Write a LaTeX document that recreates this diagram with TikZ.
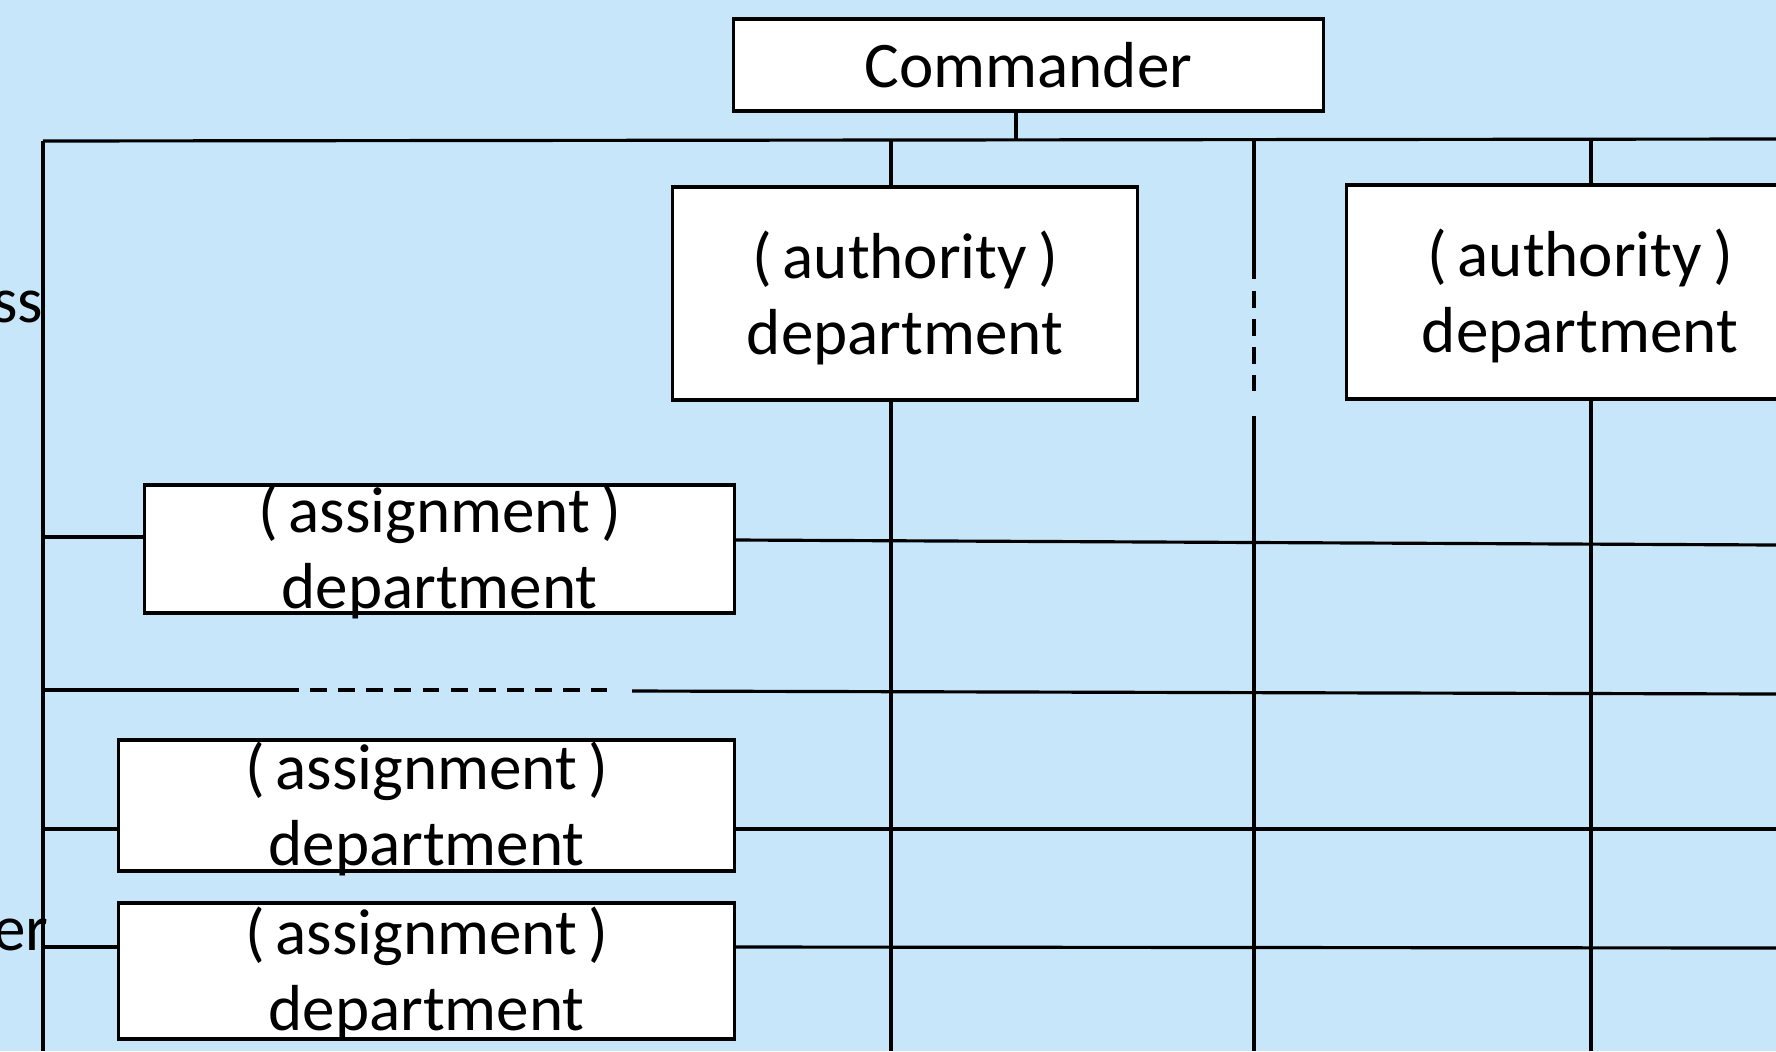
\documentclass[tikz,border=0pt]{standalone}
\usepackage{fontspec}
\setmainfont{Carlito}
\definecolor{fundo}{RGB}{199,230,250}
\begin{document}
\begin{tikzpicture}[x=0.01cm, y=-0.01cm, line width=0.9pt,
    caixa/.style={draw, fill=white, inner sep=0pt},
    texto/.style={align=center, inner sep=0pt, font=\fontsize{18.5}{21.6}\selectfont},
    tracejado/.style={dash pattern=on 4.8pt off 3.2pt}]
    % Fundo
    \fill[fundo] (0,0) rectangle (1776,1051);
    \useasboundingbox (0,0) rectangle (1776,1051);

    % Caixas
    \node[caixa, texto, minimum width=5.89cm, minimum height=0.92cm] (cmd) at (1028.5,65) {Commander};
    \node[caixa, minimum width=4.64cm, minimum height=2.13cm] (aut1) at (905,293.5) {};
    \node[caixa, minimum width=4.66cm, minimum height=2.14cm] (aut2) at (1580,292) {};
    \node[caixa, minimum width=5.89cm, minimum height=1.28cm] (as1) at (439.5,549) {};
    \node[caixa, minimum width=6.15cm, minimum height=1.31cm] (as2) at (426.5,805.5) {};
    \node[caixa, minimum width=6.15cm, minimum height=1.36cm] (as3) at (426.5,971) {};

    % Textos
    \node[texto, yshift=-0.04cm] (taut1) at (aut1.center) {(\,authority\,)\\department};
    \node[texto, yshift=-0.04cm] (taut2) at (aut2.center) {(\,authority\,)\\department};
    \node[texto, yshift=-0.03cm] (tas1) at (as1.center) {(\,assignment\,)\\department};
    \node[texto, yshift=-0.03cm] (tas2) at (as2.center) {(\,assignment\,)\\department};
    \node[texto, yshift=-0.03cm] (tas3) at (as3.center) {(\,assignment\,)\\department};
    \node[texto, anchor=base east] (rot1) at (45,322) {ss};
    \node[texto, anchor=base east] (rot2) at (50,950) {er};

    % Pontos
    \coordinate (e0) at (43,141);
    \coordinate (e5) at (43,1051);
    \coordinate (d0) at (1776,139);
    \coordinate (c0) at (1016,140);
    \coordinate (v1) at (891,140);
    \coordinate (v2) at (1254,140);
    \coordinate (v3) at (1591,139);
    \coordinate (b1) at (891,1051);
    \coordinate (b2) at (1254,1051);
    \coordinate (b3) at (1591,1051);
    \coordinate (q1) at (1254,279);
    \coordinate (q2) at (1254,291);
    \coordinate (q3) at (1254,391);
    \coordinate (q4) at (1254,416);

    % Linhas de topo e verticais
    \draw (e0) -- (d0);
    \draw (c0 |- cmd.south) -- (c0);
    \draw (e0) -- (e5);
    \draw (v1) -- (v1 |- aut1.north);
    \draw (v1 |- aut1.south) -- (b1);
    \draw (v3) -- (v3 |- aut2.north);
    \draw (v3 |- aut2.south) -- (b3);
    \draw (v2) -- (q1);
    \draw[tracejado] (q2) -- (q3);
    \draw (q4) -- (b2);

    % Linhas horizontais
    \coordinate (l1) at (43,537);
    \coordinate (r1) at (1776,545);
    \coordinate (l2) at (43,690);
    \coordinate (p1) at (299,690);
    \coordinate (p2) at (310,690);
    \coordinate (p3) at (607,690);
    \coordinate (p4) at (632,691);
    \coordinate (r2) at (1776,694);
    \coordinate (l3) at (43,829);
    \coordinate (r3) at (1776,829);
    \coordinate (l4) at (43,947);
    \coordinate (r4) at (1776,948);

    \draw (l1) -- (as1.west |- l1);
    \draw (as1.east |- 0,540) -- (r1);
    \draw (l2) -- (p1);
    \draw[tracejado] (p2) -- (p3);
    \draw (p4) -- (r2);
    \draw (l3) -- (as2.west |- l3);
    \draw (as2.east |- l3) -- (r3);
    \draw (l4) -- (as3.west |- l4);
    \draw (as3.east |- l4) -- (r4);
\end{tikzpicture}
\end{document}
